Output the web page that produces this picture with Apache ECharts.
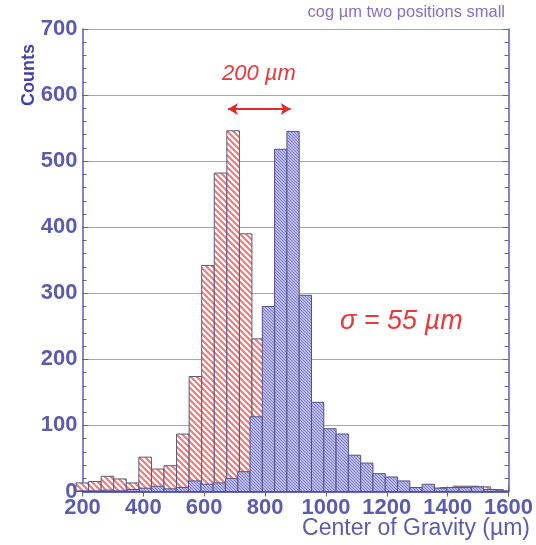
<!DOCTYPE html>
<html><head><meta charset="utf-8">
<script src="https://cdn.jsdelivr.net/npm/echarts@6/dist/echarts.min.js"></script>
<style>html,body{margin:0;padding:0;background:#fff}#c{width:536px;height:545px}</style>
</head><body><div id="c"></div>
<script>
// ---- data ----
const xTicks = [200, 400, 600, 800, 1000, 1200, 1400, 1600];
const yTicks = [0, 100, 200, 300, 400, 500, 600, 700];
// red (hatched) histogram: first bin edge (µm), bin width (µm), counts
const redBinStart = 178.7;
const redBinWidth = 41.3;
const redCounts = [13, 15, 23, 19, 13, 52, 34, 39, 87, 174, 342, 482, 546, 390, 231,
  172, 70, 30, 15, 9, 6, 5, 4, 4, 3, 4, 3, 4, 5, 6, 8, 8, 7, 3];
// blue (filled) histogram
const blueBinStart = 184.9;
const blueBinWidth = 40.4;
const blueCounts = [1, 1, 2, 1, 3, 5, 8, 4, 6, 16, 11, 13, 20, 30, 113, 280, 518, 545,
  297, 135, 95, 87, 55, 43, 27, 22, 16, 6, 11, 5, 6, 6, 7, 3, 1];
// annotation
const arrowFrom = [678, 579], arrowTo = [884, 579];

function toBins(start, width, counts) {
  return counts.map((c, i) => [start + i * width, start + (i + 1) * width, c]);
}
function hatch(bg, fg, size, lw) {
  const cv = document.createElement('canvas');
  cv.width = cv.height = size;
  const g = cv.getContext('2d');
  g.fillStyle = bg; g.fillRect(0, 0, size, size);
  g.strokeStyle = fg; g.lineWidth = lw;
  g.beginPath();
  for (const o of [-size, 0, size]) { g.moveTo(o - 1, -1); g.lineTo(o + size + 1, size + 1); }
  g.stroke();
  return cv;
}
const redPat = { image: hatch('#ffffff', '#f07c7c', 6, 2.2), repeat: 'repeat' };
const bluePat = { image: hatch('#b8b8e6', '#7c7cbe', 3, 0.9), repeat: 'repeat' };

function makeRender(fill, stroke) {
  return function (params, api) {
    const p0 = api.coord([api.value(0), 0]);
    const p1 = api.coord([api.value(1), api.value(2)]);
    return {
      type: 'rect',
      shape: { x: p0[0], y: p1[1], width: p1[0] - p0[0], height: p0[1] - p1[1] },
      style: { fill: fill, stroke: stroke, lineWidth: 1 }
    };
  };
}

const axisCol = '#5e5eb4';
const labelCol = '#5c5cae';
const lblFont = { color: labelCol, fontSize: 22, fontWeight: 'bold', fontFamily: 'Liberation Sans, Arial', margin: 5, formatter: v => String(v) };
const chart = echarts.init(document.getElementById('c'));
chart.setOption({
  animation: false,
  grid: { left: 82.5, right: 27, top: 29, bottom: 53.5 },
  xAxis: [{
    type: 'value', min: xTicks[0], max: xTicks[xTicks.length - 1], interval: xTicks[1] - xTicks[0],
    position: 'bottom',
    axisLine: { lineStyle: { color: axisCol, width: 1.5 } },
    axisTick: { inside: true, length: 5, lineStyle: { color: axisCol } },
    axisLabel: Object.assign({}, lblFont, { margin: 5 }),
    splitLine: { show: false }
  }, {
    type: 'value', min: xTicks[0], max: xTicks[xTicks.length - 1], interval: xTicks[1] - xTicks[0],
    position: 'top',
    axisLine: { lineStyle: { color: axisCol, width: 1.5 } },
    axisTick: { inside: true, length: 5, lineStyle: { color: axisCol } },
    axisLabel: { show: false }, splitLine: { show: false }
  }],
  yAxis: [{
    type: 'value', min: yTicks[0], max: yTicks[yTicks.length - 1], interval: yTicks[1] - yTicks[0],
    position: 'left',
    axisLine: { show: true, lineStyle: { color: axisCol, width: 1.5 } },
    axisTick: { show: true, inside: true, length: 6, lineStyle: { color: axisCol } },
    minorTick: { show: true, splitNumber: 5, length: 4, lineStyle: { color: axisCol } },
    axisLabel: lblFont,
    splitLine: { show: true, lineStyle: { color: '#a8a8a8', width: 1 } }
  }, {
    type: 'value', min: yTicks[0], max: yTicks[yTicks.length - 1], interval: yTicks[1] - yTicks[0],
    position: 'right',
    axisLine: { show: true, lineStyle: { color: axisCol, width: 1.5 } },
    axisTick: { show: true, inside: true, length: 6, lineStyle: { color: axisCol } },
    minorTick: { show: true, splitNumber: 5, length: 4, lineStyle: { color: axisCol } },
    axisLabel: { show: false }, splitLine: { show: false }
  }],
  series: [{
    type: 'custom', name: 'red', xAxisIndex: 0, yAxisIndex: 0,
    renderItem: makeRender(redPat, '#5a5a78'),
    encode: { x: [0, 1], y: 2 },
    data: toBins(redBinStart, redBinWidth, redCounts), z: 2
  }, {
    type: 'custom', name: 'blue', xAxisIndex: 0, yAxisIndex: 0,
    renderItem: makeRender(bluePat, '#52528a'),
    encode: { x: [0, 1], y: 2 },
    data: toBins(blueBinStart, blueBinWidth, blueCounts), z: 3
  }, {
    type: 'line', data: [], xAxisIndex: 0, yAxisIndex: 0,
    markLine: {
      silent: true, symbol: ['arrow', 'arrow'], symbolSize: [9, 10],
      label: { show: false },
      lineStyle: { color: '#e02a2a', width: 2, type: 'solid' },
      data: [[{ coord: arrowFrom }, { coord: arrowTo }]]
    }
  }],
  graphic: [
    { type: 'text', right: 31, top: 4, style: { text: 'cog µm two positions small', fill: '#8a6cc0', font: '16.5px "Liberation Sans", Arial' } },
    { type: 'text', x: 20, y: 106, rotation: Math.PI / 2, style: { text: 'Counts', fill: '#4444a0', font: 'bold 18px "Liberation Sans", Arial' } },
    { type: 'text', right: 6, top: 517, style: { text: 'Center of Gravity (µm)', fill: labelCol, font: '23px "Liberation Sans", Arial' } },
    { type: 'text', x: 222, y: 63, style: { text: '200 µm', fill: '#e8383c', font: 'italic 22px "Liberation Sans", Arial' } },
    { type: 'text', x: 340, y: 308, style: { text: 'σ = 55 µm', fill: '#e8383c', font: 'italic 27px "Liberation Sans", Arial' } }
  ]
});
</script></body></html>
